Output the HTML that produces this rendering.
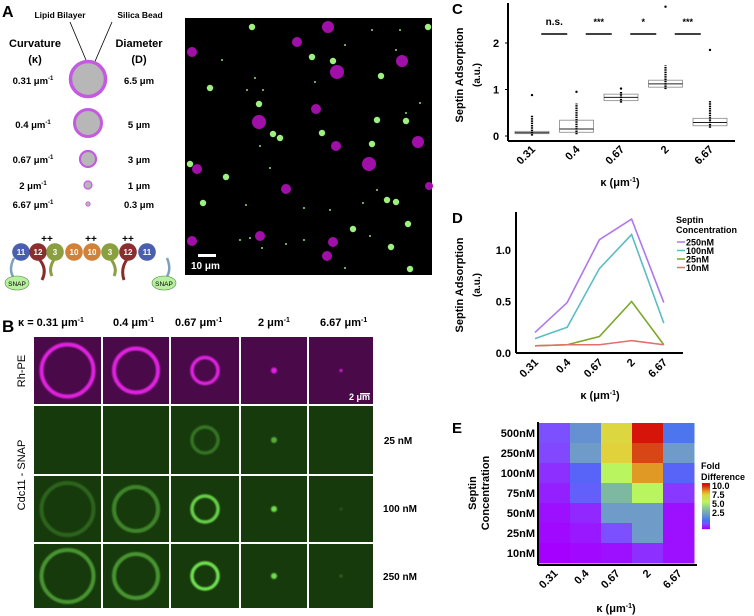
<!DOCTYPE html>
<html><head><meta charset="utf-8"><style>
body{margin:0;background:#fff}
svg{display:block;font-family:"Liberation Sans",Arial,sans-serif;font-weight:bold}
</style></head><body>
<svg id="fig" width="754" height="616" viewBox="0 0 754 616" xmlns="http://www.w3.org/2000/svg">
<defs>
<filter id="bl" x="-50%" y="-50%" width="200%" height="200%"><feGaussianBlur stdDeviation="0.8"/></filter>
</defs>
<g>
<text x="2" y="17" font-size="16">A</text>
<text x="60" y="18" font-size="8.5" text-anchor="middle">Lipid Bilayer</text>
<text x="140" y="18" font-size="8.5" text-anchor="middle">Silica Bead</text>
<line x1="70" y1="22" x2="86" y2="60" stroke="#000" stroke-width="0.8"/>
<line x1="112" y1="22" x2="90" y2="73" stroke="#000" stroke-width="0.8"/>
<text x="35" y="47" font-size="11" text-anchor="middle">Curvature</text>
<text x="35" y="63" font-size="11" text-anchor="middle">(κ)</text>
<text x="139" y="47" font-size="11" text-anchor="middle">Diameter</text>
<text x="139" y="63" font-size="11" text-anchor="middle">(D)</text>
<g fill="#b7b7b7" stroke="#c45ae0">
<circle cx="88" cy="79" r="17.5" stroke-width="3.5"/>
<circle cx="88" cy="123" r="13.5" stroke-width="3"/>
<circle cx="88" cy="159" r="8" stroke-width="2.2"/>
<circle cx="88" cy="185" r="4" stroke-width="1.2"/>
<circle cx="88" cy="204" r="2.2" stroke-width="0.8"/>
</g>
<g font-size="9.5" text-anchor="middle">
<text x="33" y="84">0.31 μm<tspan dy="-4" font-size="6">-1</tspan></text>
<text x="33" y="128">0.4 μm<tspan dy="-4" font-size="6">-1</tspan></text>
<text x="33" y="163">0.67 μm<tspan dy="-4" font-size="6">-1</tspan></text>
<text x="33" y="189">2 μm<tspan dy="-4" font-size="6">-1</tspan></text>
<text x="33" y="208">6.67 μm<tspan dy="-4" font-size="6">-1</tspan></text>
<text x="139" y="84">6.5 μm</text>
<text x="139" y="128">5 μm</text>
<text x="139" y="163">3 μm</text>
<text x="139" y="189">1 μm</text>
<text x="139" y="208">0.3 μm</text>
</g>
<g>
<path d="M14 258 Q8 270 14 278" fill="none" stroke="#7ea0c0" stroke-width="2.5"/>
<path d="M167 258 Q172 270 166 278" fill="none" stroke="#7ea0c0" stroke-width="2.5"/>
<path d="M38 258 Q48 268 42 280" fill="none" stroke="#8a2a2a" stroke-width="3"/>
<path d="M55 258 Q48 268 52 276" fill="none" stroke="#8aa040" stroke-width="3"/>
<path d="M110 258 Q118 268 114 276" fill="none" stroke="#8aa040" stroke-width="3"/>
<path d="M128 258 Q120 268 124 280" fill="none" stroke="#8a2a2a" stroke-width="3"/>
<g font-size="8" fill="#fff" text-anchor="middle" stroke="none">
<circle cx="21" cy="252" r="8.8" fill="#4a5fae"/><text x="21" y="255">11</text>
<circle cx="38" cy="252" r="8.8" fill="#8a2f2f"/><text x="38" y="255">12</text>
<circle cx="55" cy="252" r="8.8" fill="#8aa040"/><text x="55" y="255">3</text>
<circle cx="74" cy="252" r="8.8" fill="#d0823a"/><text x="74" y="255">10</text>
<circle cx="92" cy="252" r="8.8" fill="#d0823a"/><text x="92" y="255">10</text>
<circle cx="110" cy="252" r="8.8" fill="#8aa040"/><text x="110" y="255">3</text>
<circle cx="128" cy="252" r="8.8" fill="#8a2f2f"/><text x="128" y="255">12</text>
<circle cx="147" cy="252" r="8.8" fill="#4a5fae"/><text x="147" y="255">11</text>
</g>
<g font-size="10" text-anchor="middle"><text x="47" y="242">++</text><text x="91" y="242">++</text><text x="128" y="242">++</text></g>
<ellipse cx="17" cy="283" rx="12" ry="7" fill="#b8f0a0" stroke="#4a8a40" stroke-width="0.6"/>
<text x="17" y="286" font-size="6.5" font-weight="normal" text-anchor="middle">SNAP</text>
<ellipse cx="164" cy="283" rx="12" ry="7" fill="#b8f0a0" stroke="#4a8a40" stroke-width="0.6"/>
<text x="164" y="286" font-size="6.5" font-weight="normal" text-anchor="middle">SNAP</text>
</g>
</g>
<g>
<rect x="185" y="18" width="247" height="257" fill="#000"/>
<g id="beads"></g>
<rect x="198" y="254" width="18" height="3" fill="#fff"/>
<text x="191" y="269" font-size="10" fill="#fff">10 μm</text>
</g>
<g>
<text x="2" y="332" font-size="17">B</text>
<g font-size="11">
<text x="18" y="326">κ = 0.31 μm<tspan dy="-4" font-size="7">-1</tspan></text>
<text x="113" y="326">0.4 μm<tspan dy="-4" font-size="7">-1</tspan></text>
<text x="175" y="326">0.67 μm<tspan dy="-4" font-size="7">-1</tspan></text>
<text x="258" y="326">2 μm<tspan dy="-4" font-size="7">-1</tspan></text>
<text x="320" y="326">6.67 μm<tspan dy="-4" font-size="7">-1</tspan></text>
</g>
<text transform="translate(25,371) rotate(-90)" font-size="11" font-weight="normal" text-anchor="middle">Rh-PE</text>
<text transform="translate(25,475) rotate(-90)" font-size="11" font-weight="normal" text-anchor="middle">Cdc11 - SNAP</text>
<g font-size="10" text-anchor="middle"><text x="398" y="444">25 nM</text><text x="400" y="512">100 nM</text><text x="400" y="580">250 nM</text></g>
<g id="grid"></g>
<text x="349" y="400" font-size="9" fill="#fff">2 μm</text>
<rect x="360" y="393" width="10" height="1.5" fill="#fff"/>
</g>
<g>
<text x="452" y="14" font-size="15">C</text>
<text transform="translate(463,75) rotate(-90)" font-size="11" text-anchor="middle">Septin Adsorption</text>
<text transform="translate(480,75) rotate(-90)" font-size="10" text-anchor="middle">(a.u.)</text>
<g id="cplot"></g>
<text x="620" y="186" font-size="11" text-anchor="middle">κ (μm<tspan dy="-4" font-size="7">-1</tspan><tspan dy="4">)</tspan></text>
</g>
<g>
<text x="452" y="223" font-size="15">D</text>
<text transform="translate(463,285) rotate(-90)" font-size="11" text-anchor="middle">Septin Adsorption</text>
<text transform="translate(480,285) rotate(-90)" font-size="10" text-anchor="middle">(a.u.)</text>
<g id="dplot"></g>
<text x="600" y="399" font-size="11" text-anchor="middle">κ (μm<tspan dy="-4" font-size="7">-1</tspan><tspan dy="4">)</tspan></text>
</g>
<g>
<text x="452" y="433" font-size="15">E</text>
<text transform="translate(476,493) rotate(-90)" font-size="11" text-anchor="middle">Septin</text>
<text transform="translate(489,493) rotate(-90)" font-size="11" text-anchor="middle">Concentration</text>
<g id="eplot"></g>
<text x="616" y="612" font-size="11" text-anchor="middle">κ (μm<tspan dy="-4" font-size="7">-1</tspan><tspan dy="4">)</tspan></text>
</g>
</svg>
<script>
const NS='http://www.w3.org/2000/svg';
function mk(p,t,a){const e=document.createElementNS(NS,t);for(const k in a)e.setAttribute(k,a[k]);p.appendChild(e);return e;}
const greenBeads=[[252,27],[210,88],[259,104],[312,57],[333,61],[381,76],[377,120],[406,121],[322,133],[372,144],[273,134],[280,138],[226,177],[203,203],[387,200],[396,202],[408,224],[353,229],[391,247],[410,269],[428,27],[190,164]];
const magBeads=[[328,27,6],[297,42,5],[337,72,7],[402,61,6],[259,122,7],[316,109,5],[336,146,5],[369,164,7],[418,142,6],[197,169,5],[286,189,5],[192,52,5],[192,241,5],[260,236,5],[333,242,5],[327,256,5],[429,186,4]];
const tiny=[[222,60],[247,90],[263,90],[255,78],[315,82],[345,45],[396,50],[400,30],[372,30],[260,146],[270,168],[246,205],[304,208],[330,210],[363,203],[377,190],[420,103],[250,238],[286,244],[262,248],[240,240],[304,240],[370,236],[345,268],[406,113]];
const bg=document.getElementById('beads');
magBeads.forEach(b=>{const c=mk(bg,'circle',{cx:b[0],cy:b[1],r:b[2],fill:'#a010a8'});

});
greenBeads.forEach(b=>{const c=mk(bg,'circle',{cx:b[0],cy:b[1],r:3.2,fill:'#9ef080'});

});
tiny.forEach(b=>{mk(bg,'circle',{cx:b[0],cy:b[1],r:1,fill:'#8fe070'});});
const colX=[34,103,171,241,309], colW=[67,66,68,66,64];
const rowY=[337,406,476,544], rowH=[67,68,66,64];
const ringR=[26,22,13,3,1.5];
const greenAlpha=[[0,0,0.35,0.7,0],[0.25,0.45,0.9,1,0.2],[0.55,0.55,1,1,0.3]];
const grid=document.getElementById('grid');
for(let r=0;r<4;r++)for(let c=0;c<5;c++){
 const x=colX[c],y=rowY[r],w=colW[c],h=rowH[r];
 const cell=mk(grid,'rect',{x:x,y:y,width:w,height:h,fill:r==0?'#4a0a4a':'#173a0c'});
 
 
 const cx=x+w/2, cy=y+h/2, R=ringR[c];
 const col=r==0?'#e020e0':'#70e050';
 const op=r==0?1:greenAlpha[r-1][c];
 if(op>0){
  if(c<3) mk(grid,'circle',{cx:cx,cy:cy,r:R,fill:'none',stroke:col,'stroke-width':c==2?3.5:4,opacity:op,filter:'url(#bl)'});
  else mk(grid,'circle',{cx:cx,cy:cy,r:R,fill:col,opacity:op,filter:'url(#bl)'});
 }
}
const cCats=['0.31','0.4','0.67','2','6.67'];
const cQ1=[0.05,0.08,0.76,1.05,0.22];
const cMed=[0.07,0.15,0.83,1.12,0.29];
const cQ3=[0.1,0.34,0.9,1.2,0.38];
const cOutMax=[0.88,0.95,1.02,2.78,1.85];
const cOutHi=[0.45,0.7,0.95,1.52,0.75];
const cTicks=[0,1,2];
const cSig=['n.s.','***','*','***'];
(function(){
 const g=document.getElementById('cplot');
 const X=i=>532+i*44.5, Y=v=>136-v*46.5;
 mk(g,'line',{x1:508,y1:3,x2:508,y2:141,stroke:'#000','stroke-width':2});
 mk(g,'line',{x1:508,y1:141,x2:735,y2:141,stroke:'#000','stroke-width':2});
 cTicks.forEach(t=>{const tx=mk(g,'text',{x:496,y:Y(t)+4,'font-size':11,'text-anchor':'middle'});tx.textContent=t;
 mk(g,'line',{x1:505,y1:Y(t),x2:508,y2:Y(t),stroke:'#000'});});
 cCats.forEach((c,i)=>{
  const x=X(i);
  const b=mk(g,'rect',{x:x-17,y:Y(cQ3[i]),width:34,height:Y(cQ1[i])-Y(cQ3[i]),fill:'none',stroke:'#888','stroke-width':0.8});
  
  
  mk(g,'line',{x1:x-17,y1:Y(cMed[i]),x2:x+17,y2:Y(cMed[i]),stroke:'#222','stroke-width':1});
  mk(g,'line',{x1:x,y1:Y(cQ1[i])+2,x2:x,y2:Y(cOutHi[i]),stroke:'#000','stroke-width':2.2,'stroke-dasharray':'1.5 0.8'});
  mk(g,'circle',{cx:x,cy:Y(cOutMax[i]),r:1.2,fill:'#000'});
  const t=mk(g,'text',{transform:`translate(${x+4},${150}) rotate(-45)`,'font-size':11,'text-anchor':'end'});t.textContent=c;
 });
 cSig.forEach((s,i)=>{const x=(X(i)+X(i+1))/2;
  mk(g,'line',{x1:x-13,y1:34,x2:x+13,y2:34,stroke:'#000','stroke-width':1.5});
  const t=mk(g,'text',{x:x,y:25,'font-size':s=='n.s.'?10:9,'text-anchor':'middle'});t.textContent=s;});
})();
const dCats=['0.31','0.4','0.67','2','6.67'];
const dNames=['250nM','100nM','25nM','10nM'];
const d250=[0.2,0.49,1.1,1.3,0.49];
const d100=[0.14,0.25,0.82,1.15,0.29];
const d25=[0.07,0.08,0.16,0.5,0.08];
const d10=[0.07,0.08,0.08,0.12,0.08];
const dTicks=['0.0','0.5','1.0'];
(function(){
 const g=document.getElementById('dplot');
 const X=i=>535+i*32.2, Y=v=>353-v*103;
 const cols=['#b077e8','#5bbcc4','#7aa928','#e0706a'];
 [d250,d100,d25,d10].forEach((s,k)=>{
  const p=mk(g,'polyline',{points:s.map((v,i)=>X(i)+','+Y(v)).join(' '),fill:'none',stroke:cols[k],'stroke-width':1.6});
  
  
 });
 mk(g,'line',{x1:516,y1:212,x2:516,y2:353,stroke:'#000','stroke-width':2});
 mk(g,'line',{x1:516,y1:353,x2:683,y2:353,stroke:'#000','stroke-width':2});
 dTicks.forEach(t=>{const tx=mk(g,'text',{x:511,y:Y(+t)+4,'font-size':11,'text-anchor':'end'});tx.textContent=t;});
 dCats.forEach((c,i)=>{const t=mk(g,'text',{transform:`translate(${X(i)+4},${363}) rotate(-45)`,'font-size':11,'text-anchor':'end'});t.textContent=c;});
 mk(g,'text',{x:676,y:223,'font-size':9}).textContent='Septin';
 mk(g,'text',{x:676,y:233,'font-size':9}).textContent='Concentration';
 dNames.forEach((n,k)=>{const y=242+k*8.5;
  const e=mk(g,'line',{x1:677,y1:y,x2:685,y2:y,stroke:cols[k],'stroke-width':1.5});
  
  
  mk(g,'text',{x:686,y:y+3.5,'font-size':9}).textContent=n;});
})();
const eCols=['0.31','0.4','0.67','2','6.67'];
const eRows=['500nM','250nM','100nM','75nM','50nM','25nM','10nM'];
const eR500=[2.0,3.6,7.8,10,2.8];
const eR250=[1.9,3.9,8.0,9.5,3.9];
const eR100=[1.6,2.4,6.5,8.7,2.4];
const eR75=[1.4,2.3,4.8,6.5,1.7];
const eR50=[1.2,1.5,3.9,3.9,1.2];
const eR25=[1.1,1.3,2.0,3.9,1.2];
const eR10=[1.0,1.1,1.2,1.6,1.2];
const eLegend=['10.0','7.5','5.0','2.5'];
function cmap(v){
 const st=[[1,[165,0,255]],[2,[125,80,255]],[2.6,[70,110,245]],[3.9,[110,155,200]],[4.8,[125,185,160]],[6.5,[185,245,95]],[8,[225,210,60]],[8.8,[225,145,35]],[9.5,[215,70,20]],[10,[215,20,10]]];
 if(v<=st[0][0])return 'rgb('+st[0][1]+')';
 for(let i=1;i<st.length;i++){if(v<=st[i][0]){const a=st[i-1],b=st[i],t=(v-a[0])/(b[0]-a[0]);
  return 'rgb('+a[1].map((c,j)=>Math.round(c+(b[1][j]-c)*t)).join(',')+')';}}
 return 'rgb(215,20,10)';
}
(function(){
 const g=document.getElementById('eplot');
 const x0=539,y0=423,cw=31,rh=20;
 [eR500,eR250,eR100,eR75,eR50,eR25,eR10].forEach((row,r)=>{
  row.forEach((v,c)=>{const cell=mk(g,'rect',{x:x0+c*cw,y:y0+r*rh,width:cw+0.5,height:rh+0.5,fill:cmap(v)});
   
   });
  mk(g,'text',{x:535,y:y0+r*rh+14,'font-size':11,'text-anchor':'end'}).textContent=eRows[r];
 });
 mk(g,'line',{x1:538,y1:422,x2:538,y2:565,stroke:'#000','stroke-width':2});
 mk(g,'line',{x1:538,y1:565,x2:697,y2:565,stroke:'#000','stroke-width':2});
 eCols.forEach((c,i)=>{const t=mk(g,'text',{transform:`translate(${x0+i*cw+cw/2+4},${574}) rotate(-45)`,'font-size':11,'text-anchor':'end'});t.textContent=c;});
 mk(g,'text',{x:701,y:469,'font-size':9}).textContent='Fold';
 mk(g,'text',{x:701,y:480,'font-size':9}).textContent='Difference';
 for(let i=0;i<46;i++){const v=10.3-i*(9.3/45);mk(g,'rect',{x:702,y:483+i,width:8,height:1.2,fill:cmap(v)});}
 eLegend.forEach((t,k)=>{mk(g,'text',{x:712,y:489+k*9,'font-size':9}).textContent=t;});
})();
</script>
</body></html>
